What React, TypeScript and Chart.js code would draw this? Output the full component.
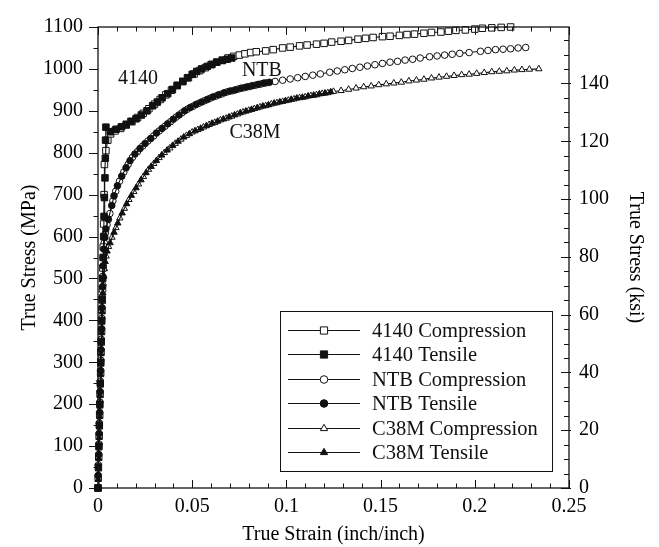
import { useEffect, useRef } from "react";
import { Chart, registerables } from "chart.js";
import { drawPoint } from "chart.js/helpers";

Chart.register(...registerables);

const FONT = "'Liberation Serif', 'Times New Roman', Times, serif";

// ---- Data (true strain, true stress in MPa) ----
const strain4140C = [0, 0.0001, 0.0004, 0.0006, 0.0009, 0.0011, 0.0014, 0.0016, 0.0019, 0.0021, 0.0024, 0.0026, 0.0028, 0.003, 0.0032, 0.0034, 0.0042, 0.0052, 0.0067, 0.009, 0.012, 0.015, 0.018, 0.021, 0.024, 0.027, 0.030, 0.033, 0.036, 0.039, 0.042, 0.045, 0.048, 0.051, 0.054, 0.057, 0.060, 0.063, 0.066, 0.069, 0.072, 0.075, 0.078, 0.081, 0.084, 0.089, 0.093, 0.098, 0.102, 0.107, 0.111, 0.116, 0.120, 0.124, 0.129, 0.133, 0.138, 0.142, 0.146, 0.151, 0.155, 0.160, 0.164, 0.168, 0.173, 0.177, 0.182, 0.186, 0.190, 0.195, 0.200, 0.204, 0.209, 0.214, 0.219];
const stress4140C = [0, 25, 75, 125, 175, 225, 275, 325, 375, 425, 475, 525, 575, 630, 700, 772, 805, 830, 845, 852, 858, 866, 874, 884, 894, 905, 916, 927, 938, 949, 960, 970, 979, 988, 996, 1003, 1010, 1016, 1021, 1026, 1030, 1033, 1036, 1039, 1041, 1043, 1046, 1050, 1052, 1055, 1057, 1059, 1061, 1064, 1066, 1068, 1071, 1073, 1075, 1077, 1078, 1080, 1082, 1083, 1085, 1087, 1088, 1090, 1092, 1093, 1095, 1097, 1098, 1099, 1100];

const strain4140T = [0, 0.0002, 0.0005, 0.0007, 0.001, 0.0012, 0.0015, 0.0017, 0.002, 0.0022, 0.0025, 0.0027, 0.003, 0.0032, 0.0034, 0.0037, 0.0039, 0.004, 0.0042, 0.0065, 0.0096, 0.0125, 0.015, 0.0175, 0.0202, 0.023, 0.026, 0.029, 0.0315, 0.034, 0.037, 0.0395, 0.0421, 0.045, 0.0475, 0.05, 0.0524, 0.055, 0.058, 0.0605, 0.063, 0.066, 0.0685, 0.071];
const stress4140T = [0, 50, 100, 150, 200, 250, 300, 350, 400, 450, 500, 550, 600, 648, 693, 740, 787, 830, 861, 850, 856, 862, 868, 875, 881, 890, 900, 912, 921, 931, 941, 951, 961, 970, 979, 987, 994, 1000, 1006, 1011, 1016, 1020, 1023, 1026];

const strainNTBC = [0, 0.0002, 0.0005, 0.0007, 0.001, 0.0012, 0.0015, 0.0017, 0.002, 0.0022, 0.0025, 0.0028, 0.0033, 0.0039, 0.0048, 0.0063, 0.0079, 0.0094, 0.0114, 0.0137, 0.016, 0.0183, 0.021, 0.0237, 0.0265, 0.0295, 0.0325, 0.0355, 0.0385, 0.0415, 0.0445, 0.0475, 0.0505, 0.0535, 0.0565, 0.0595, 0.0625, 0.0655, 0.0685, 0.0715, 0.0745, 0.0775, 0.0805, 0.0835, 0.0865, 0.0895, 0.094, 0.098, 0.102, 0.106, 0.11, 0.114, 0.118, 0.123, 0.127, 0.131, 0.135, 0.139, 0.143, 0.147, 0.151, 0.155, 0.159, 0.163, 0.167, 0.171, 0.176, 0.18, 0.184, 0.188, 0.192, 0.197, 0.203, 0.207, 0.211, 0.215, 0.219, 0.223, 0.227];
const stressNTBC = [0, 55, 105, 155, 205, 255, 305, 355, 405, 455, 505, 550, 585, 608, 628, 655, 685, 708, 732, 754, 772, 789, 803, 816, 828, 840, 852, 863, 874, 885, 895, 904, 911, 918, 924, 930, 935, 940, 945, 948, 952, 955, 958, 961, 964, 967, 970, 973, 976, 979, 982, 985, 988, 992, 995, 998, 1001, 1004, 1007, 1010, 1013, 1016, 1018, 1021, 1023, 1026, 1029, 1031, 1033, 1035, 1037, 1039, 1042, 1044, 1046, 1047, 1048, 1050, 1051];

const strainNTBT = [0, 0.0001, 0.0004, 0.0006, 0.0009, 0.0011, 0.0014, 0.0016, 0.0019, 0.0021, 0.0024, 0.0027, 0.0031, 0.0036, 0.0042, 0.0055, 0.0073, 0.0085, 0.0103, 0.0126, 0.0149, 0.017, 0.0196, 0.0223, 0.025, 0.028, 0.031, 0.034, 0.037, 0.04, 0.043, 0.046, 0.049, 0.052, 0.055, 0.058, 0.061, 0.064, 0.067, 0.07, 0.073, 0.076, 0.079, 0.082, 0.085, 0.088, 0.091];
const stressNTBT = [0, 30, 80, 130, 180, 230, 280, 330, 380, 430, 480, 530, 570, 598, 618, 641, 674, 697, 721, 744, 764, 781, 797, 810, 822, 834, 847, 858, 869, 880, 890, 900, 908, 915, 921, 927, 933, 938, 943, 947, 950, 954, 957, 960, 963, 966, 968];

const strainC38MC = [0, 0.0003, 0.0005, 0.0008, 0.001, 0.0013, 0.0015, 0.0018, 0.002, 0.0024, 0.0028, 0.0034, 0.0043, 0.0056, 0.0074, 0.0095, 0.0116, 0.014, 0.0164, 0.019, 0.0215, 0.0241, 0.0268, 0.0296, 0.0324, 0.0352, 0.0381, 0.041, 0.044, 0.047, 0.05, 0.053, 0.056, 0.059, 0.062, 0.065, 0.068, 0.071, 0.074, 0.077, 0.08, 0.083, 0.086, 0.089, 0.092, 0.095, 0.098, 0.101, 0.104, 0.107, 0.11, 0.113, 0.116, 0.119, 0.122, 0.125, 0.129, 0.133, 0.137, 0.141, 0.145, 0.149, 0.153, 0.157, 0.161, 0.165, 0.169, 0.173, 0.177, 0.181, 0.185, 0.189, 0.193, 0.197, 0.201, 0.205, 0.209, 0.213, 0.217, 0.221, 0.225, 0.229, 0.234];
const stressC38MC = [0, 45, 95, 145, 195, 245, 295, 345, 395, 445, 488, 523, 553, 576, 598, 621, 644, 667, 688, 707, 725, 743, 760, 774, 788, 800, 811, 822, 832, 841, 849, 855, 861, 867, 872, 878, 882, 887, 892, 897, 901, 905, 909, 912, 916, 919, 922, 925, 928, 931, 933, 936, 938, 941, 943, 946, 948, 951, 954, 957, 959, 962, 964, 966, 968, 971, 973, 975, 978, 980, 982, 984, 986, 987, 989, 991, 993, 994, 995, 997, 998, 999, 1000];

const strainC38MT = [0, 0.0001, 0.0004, 0.0006, 0.0009, 0.0011, 0.0014, 0.0016, 0.0019, 0.0022, 0.0026, 0.0031, 0.0038, 0.0048, 0.0064, 0.0085, 0.0105, 0.0128, 0.0152, 0.0177, 0.0202, 0.0228, 0.0255, 0.0282, 0.031, 0.0338, 0.0367, 0.0396, 0.0425, 0.0455, 0.0485, 0.0515, 0.0545, 0.0575, 0.0605, 0.0635, 0.0665, 0.0695, 0.0725, 0.0755, 0.0785, 0.0815, 0.0845, 0.0875, 0.0905, 0.0935, 0.0965, 0.0995, 0.1025, 0.1055, 0.1085, 0.1115, 0.1145, 0.1175, 0.1205, 0.1235];
const stressC38MT = [0, 20, 70, 120, 170, 220, 270, 320, 370, 420, 465, 505, 540, 565, 585, 610, 632, 656, 678, 698, 716, 735, 752, 767, 781, 794, 806, 817, 827, 837, 845, 852, 858, 864, 870, 875, 880, 885, 890, 895, 899, 903, 907, 911, 914, 918, 921, 924, 927, 930, 932, 935, 937, 940, 942, 945];

const seriesLabels = ["4140 Compression", "4140 Tensile", "NTB Compression", "NTB Tensile", "C38M Compression", "C38M Tensile"];
const materialLabels = ["4140", "NTB", "C38M"];
const materialLabelPos = [[0.0212, 976], [0.087, 995], [0.0833, 847]];

const xTicks = [0, 0.05, 0.1, 0.15, 0.2, 0.25];
const MPA_PER_KSI = 6.894757;

export default function App() {
  const ref = useRef<HTMLCanvasElement | null>(null);

  useEffect(() => {
    if (!ref.current) return;
    const black = "#111";
    const styles = [
      { ps: "rect", r: 4.6, fill: false },
      { ps: "rect", r: 4.6, fill: true },
      { ps: "circle", r: 3.3, fill: false },
      { ps: "circle", r: 3.3, fill: true },
      { ps: "triangle", r: 3.7, fill: false },
      { ps: "triangle", r: 3.7, fill: true },
    ];
    const xs = [strain4140C, strain4140T, strainNTBC, strainNTBT, strainC38MC, strainC38MT];
    const ys = [stress4140C, stress4140T, stressNTBC, stressNTBT, stressC38MC, stressC38MT];

    const datasets = seriesLabels.map((label, k) => ({
      label,
      data: xs[k].map((x, i) => ({ x, y: ys[k][i] })),
      showLine: true,
      borderColor: black,
      borderWidth: 1.1,
      pointStyle: styles[k].ps,
      pointRadius: styles[k].r,
      pointBackgroundColor: styles[k].fill ? black : "#fff",
      pointBorderColor: black,
      pointBorderWidth: 1,
      clip: false,
      order: styles[k].fill ? 0 : 1,
      xAxisID: "x",
      yAxisID: "y",
    }));

    const framePlugin = {
      id: "frame",
      afterDraw(chart: any) {
        const ctx = chart.ctx;
        const a = chart.chartArea;
        const sx = chart.scales.x;
        const sy = chart.scales.y;
        const sy2 = chart.scales.y2;
        ctx.save();
        ctx.strokeStyle = "#111";
        ctx.lineWidth = 1.3;
        ctx.strokeRect(a.left, a.top, a.right - a.left, a.bottom - a.top);
        ctx.lineWidth = 1;
        ctx.beginPath();
        // x ticks (bottom & top, inward)
        for (let i = 0; i <= 25; i++) {
          const px = Math.round(sx.getPixelForValue(i / 100)) + 0.5;
          const len = i % 5 === 0 ? 8 : 4.5;
          ctx.moveTo(px, a.bottom);
          ctx.lineTo(px, a.bottom - len);
          ctx.moveTo(px, a.top);
          ctx.lineTo(px, a.top + len);
        }
        // left ticks (outward)
        for (let i = 0; i <= 22; i++) {
          const py = Math.round(sy.getPixelForValue(i * 50)) + 0.5;
          const len = i % 2 === 0 ? 9 : 4.5;
          ctx.moveTo(a.left - len, py);
          ctx.lineTo(a.left, py);
        }
        // right ticks (inward)
        for (let i = 0; i * 5 <= sy2.max; i++) {
          const py = Math.round(sy2.getPixelForValue(i * 5)) + 0.5;
          const len = i % 4 === 0 ? 8 : 5;
          ctx.moveTo(a.right - len, py);
          ctx.lineTo(a.right + (i % 4 === 0 ? 2 : 0), py);
        }
        ctx.stroke();

        // material labels
        ctx.fillStyle = "#111";
        ctx.font = `20px ${FONT}`;
        ctx.textAlign = "center";
        ctx.textBaseline = "middle";
        materialLabels.forEach((t, i) => {
          const [vx, vy] = materialLabelPos[i];
          ctx.fillText(t, sx.getPixelForValue(vx), sy.getPixelForValue(vy));
        });

        // legend
        const bx = 280.5, by = 311.5, bw = 272, bh = 160;
        ctx.fillStyle = "#fff";
        ctx.fillRect(bx, by, bw, bh);
        ctx.strokeStyle = "#111";
        ctx.lineWidth = 1;
        ctx.strokeRect(bx, by, bw, bh);
        ctx.textAlign = "left";
        ctx.font = `20.5px ${FONT}`;
        seriesLabels.forEach((label, k) => {
          const ry = Math.round(330 + k * 24.4) + 0.5;
          ctx.strokeStyle = black;
          ctx.lineWidth = 1;
          ctx.beginPath();
          ctx.moveTo(288, ry);
          ctx.lineTo(360, ry);
          ctx.stroke();
          ctx.fillStyle = styles[k].fill ? black : "#fff";
          ctx.strokeStyle = black;
          drawPoint(ctx, { pointStyle: styles[k].ps, radius: styles[k].r + 0.5, borderWidth: 1, rotation: 0 } as any, 324, ry);
          ctx.fillStyle = "#111";
          ctx.fillText(label, 372, ry + 1);
        });
        ctx.restore();
      },
    };

    const chart = new Chart(ref.current, {
      type: "scatter",
      data: { datasets: datasets as any },
      options: {
        animation: false,
        responsive: false,
        layout: { padding: { top: 18, left: 0, right: 0, bottom: 0 } },
        plugins: { legend: { display: false }, tooltip: { enabled: false } },
        scales: {
          x: {
            type: "linear",
            position: "bottom",
            min: 0,
            max: 0.25,
            afterFit: (s: any) => { s.height = 59; },
            afterBuildTicks: (s: any) => { s.ticks = xTicks.map((v) => ({ value: v })); },
            ticks: {
              color: "#000",
              font: { family: FONT, size: 20 },
              padding: 7,
              maxRotation: 0,
              autoSkip: false,
              callback: (v: any) => String(+Number(v).toFixed(2)),
            },
            grid: { display: false, drawTicks: false },
            border: { display: false },
            title: {
              display: true,
              text: "True Strain (inch/inch)",
              color: "#000",
              font: { family: FONT, size: 20 },
              padding: { top: 0, bottom: 0 },
            },
          },
          y: {
            type: "linear",
            position: "left",
            min: 0,
            max: 1100,
            afterFit: (s: any) => { s.width = 98; },
            ticks: {
              stepSize: 100,
              color: "#000",
              font: { family: FONT, size: 20 },
              padding: 15,
              callback: (v: any) => String(Math.round(Number(v))),
            },
            grid: { display: false, drawTicks: false },
            border: { display: false },
            title: {
              display: true,
              text: "True Stress (MPa)",
              color: "#000",
              font: { family: FONT, size: 20 },
              padding: { top: 18, bottom: 0 },
            },
          },
          y2: {
            type: "linear",
            position: "right",
            min: 0,
            max: 1100 / MPA_PER_KSI,
            afterFit: (s: any) => { s.width = 90; },
            ticks: {
              stepSize: 20,
              includeBounds: false,
              color: "#000",
              font: { family: FONT, size: 20 },
              padding: 10,
              callback: (v: any) => String(Math.round(Number(v))),
            },
            grid: { display: false, drawTicks: false },
            border: { display: false },
            title: {
              display: true,
              text: "True Stress (ksi)",
              color: "#000",
              font: { family: FONT, size: 20 },
              padding: { top: 12, bottom: 0 },
            },
          },
        },
      },
      plugins: [framePlugin],
    });
    return () => chart.destroy();
  }, []);

  return (
    <div style={{ position: "absolute", left: 0, top: 0, width: 659, height: 547, background: "#fff" }}>
      <canvas ref={ref} width={659} height={547} />
    </div>
  );
}
